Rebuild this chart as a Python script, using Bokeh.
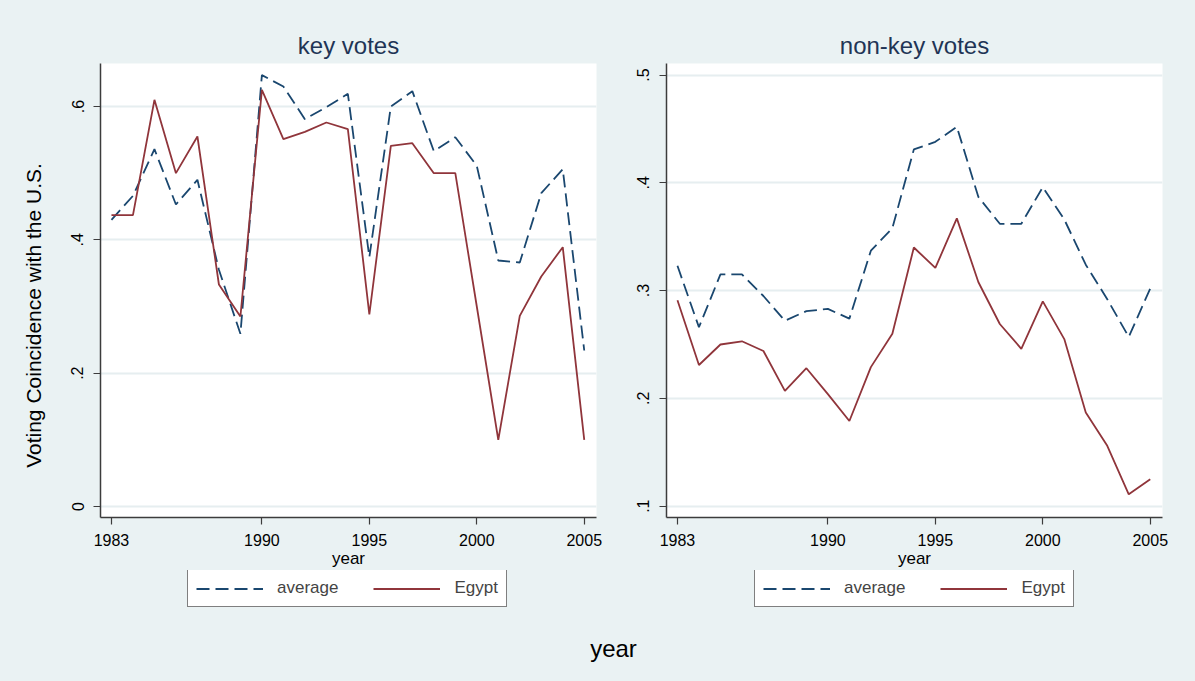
import math
from bokeh.plotting import figure
from bokeh.layouts import row, column
from bokeh.models import FixedTicker, CustomJSTickFormatter, Legend, Label, Range1d
from bokeh.embed import file_html
from bokeh.resources import INLINE

years = list(range(1983, 2006))
key_avg = [0.430, 0.466, 0.536, 0.453, 0.490, 0.355, 0.259, 0.647, 0.630, 0.581, 0.599, 0.619,
           0.374, 0.600, 0.623, 0.533, 0.554, 0.511, 0.369, 0.366, 0.470, 0.506, 0.234]
key_egypt = [0.437, 0.437, 0.610, 0.500, 0.555, 0.333, 0.285, 0.625, 0.551, 0.562, 0.576, 0.566,
             0.288, 0.541, 0.545, 0.500, 0.500, 0.300, 0.100, 0.286, 0.345, 0.389, 0.100]
nonkey_avg = [0.323, 0.266, 0.315, 0.315, 0.295, 0.272, 0.281, 0.283, 0.274, 0.337, 0.358, 0.431,
              0.438, 0.452, 0.387, 0.362, 0.362, 0.396, 0.366, 0.324, 0.292, 0.257, 0.302]
nonkey_egypt = [0.291, 0.231, 0.250, 0.253, 0.244, 0.207, 0.228, 0.204, 0.179, 0.229, 0.260, 0.340,
                0.321, 0.367, 0.308, 0.269, 0.246, 0.290, 0.255, 0.187, 0.156, 0.111, 0.125]

x_ticks = [1983, 1990, 1995, 2000, 2005]
key_ticks = [0, 0.2, 0.4, 0.6]
nonkey_ticks = [0.1, 0.2, 0.3, 0.4, 0.5]
titles = ["key votes", "non-key votes"]
series_names = ["average", "Egypt"]
y_title = "Voting Coincidence with the U.S."
x_title = "year"

BG = "#eaf2f3"
BLUE = "#1a476f"
RED = "#90353b"
AXC = "#3c3c3c"
FONT = "Liberation Sans"

PANEL_H = 570
LEG_H = 55
ROW_H = PANEL_H + LEG_H
TOP = 63
FRAME_BOTTOM = 517

AVG_STYLE = dict(line_color=BLUE, line_width=1.8, line_dash="13 6")
EG_STYLE = dict(line_color=RED, line_width=1.8)
BOX_STYLE = {"background-color": BG}

fmt = CustomJSTickFormatter(code="""
    if (Math.abs(tick) < 1e-9) return "0";
    return tick.toFixed(1).replace(/^0/, "");
""")


def panel(title, avg, eg, yticks, yr, width, bl, br):
    p = figure(width=width, height=PANEL_H, output_backend="svg", toolbar_location=None,
               x_range=Range1d(1982.49, 2005.57), y_range=Range1d(*yr),
               min_border_left=bl, min_border_right=br, min_border_top=TOP,
               min_border_bottom=PANEL_H - FRAME_BOTTOM, title=title)
    p.background_fill_color = "white"
    p.border_fill_color = BG
    p.outline_line_color = None
    p.title.align = "center"
    p.title.text_font = FONT
    p.title.text_font_size = "24px"
    p.title.text_font_style = "normal"
    p.title.text_color = "#1f3556"
    p.title.standoff = 9

    p.line(years, avg, **AVG_STYLE)
    p.line(years, eg, **EG_STYLE)

    p.xaxis.ticker = FixedTicker(ticks=x_ticks)
    p.yaxis.ticker = FixedTicker(ticks=yticks)
    p.yaxis.formatter = fmt
    p.yaxis.major_label_orientation = "vertical"
    for ax in (p.xaxis, p.yaxis):
        ax.axis_line_color = AXC
        ax.axis_line_width = 1.5
        ax.major_tick_line_color = AXC
        ax.major_tick_line_width = 1.2
        ax.major_tick_out = 7
        ax.major_tick_in = 0
        ax.minor_tick_line_color = None
        ax.major_label_text_font = FONT
        ax.major_label_text_font_size = "16px"
        ax.major_label_text_color = "black"
    p.xaxis.major_label_standoff = 9
    p.yaxis.major_label_standoff = 10
    p.xaxis.axis_label = x_title
    p.xaxis.axis_label_text_font = FONT
    p.xaxis.axis_label_text_font_size = "17px"
    p.xaxis.axis_label_text_font_style = "normal"
    p.xaxis.axis_label_text_color = "black"
    p.xaxis.axis_label_standoff = 0
    p.xgrid.grid_line_color = None
    p.ygrid.grid_line_color = "#e6eef0"
    p.ygrid.grid_line_width = 2
    return p


def blank(w, h, yr, top=0, bottom=0):
    f = figure(width=w, height=h, output_backend="svg", toolbar_location=None,
               x_range=Range1d(0, w), y_range=Range1d(*yr), min_border=0,
               min_border_top=top, min_border_bottom=bottom)
    f.axis.visible = False
    f.grid.grid_line_color = None
    f.outline_line_color = None
    f.background_fill_color = BG
    f.border_fill_color = BG
    return f


def legend_box(width, avg, eg, x_off):
    # the series are drawn here only as legend keys: they fall outside this strip's ranges
    f = blank(width, LEG_H, (0, LEG_H))
    r1 = f.line(years, avg, **AVG_STYLE)
    r2 = f.line(years, eg, **EG_STYLE)
    leg = Legend(items=[(series_names[0], [r1]), (series_names[1], [r2])],
                 orientation="horizontal", location=(x_off, 18))
    leg.border_line_color = "black"
    leg.border_line_width = 1
    leg.background_fill_color = "white"
    leg.background_fill_alpha = 1
    leg.label_text_font = FONT
    leg.label_text_font_size = "17px"
    leg.glyph_width = 67
    leg.glyph_height = 19
    leg.label_standoff = 14
    leg.spacing = 35
    leg.padding = 8
    leg.margin = 0
    f.add_layout(leg)
    return f


left = panel(titles[0], key_avg, key_egypt, key_ticks, (-0.0165, 0.6645), 560, 45, 19)
right = panel(titles[1], nonkey_avg, nonkey_egypt, nonkey_ticks, (0.0895, 0.5107), 580, 51, 33)
left_leg = legend_box(560, key_avg, key_egypt, 87)
right_leg = legend_box(580, nonkey_avg, nonkey_egypt, 88)

# strip frame matches the panels' frames; data y equals page y
strip = blank(55, ROW_H, (FRAME_BOTTOM, TOP), TOP, ROW_H - FRAME_BOTTOM)
strip.add_layout(Label(x=33, y=315, text=y_title, angle=math.pi / 2, text_align="center",
                       text_baseline="middle", text_font=FONT, text_font_size="21px",
                       text_color="black"))

bottom = blank(1195, 56, (0, 56))
bottom.add_layout(Label(x=613, y=33, text=x_title, text_align="center", text_baseline="middle",
                        text_font=FONT, text_font_size="24px", text_color="black"))

layout = column(
    row(strip,
        column(left, left_leg, spacing=0, styles=BOX_STYLE),
        column(right, right_leg, spacing=0, styles=BOX_STYLE),
        spacing=0, styles=BOX_STYLE),
    bottom, spacing=0, styles=BOX_STYLE)
open("out.html", "w").write(file_html(layout, INLINE))
